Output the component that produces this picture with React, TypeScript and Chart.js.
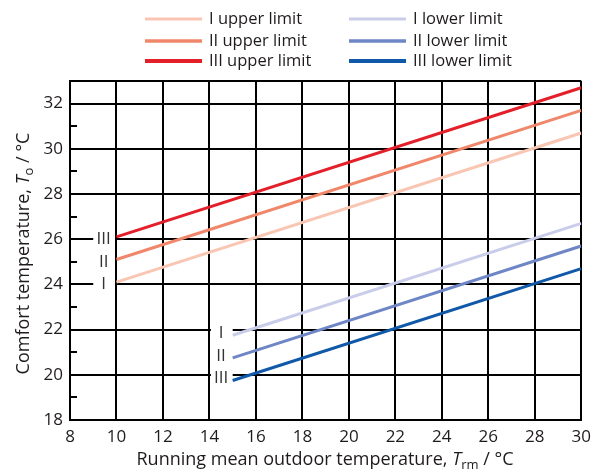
import React, { useEffect, useRef } from "react";
import { Chart, registerables } from "chart.js";

Chart.register(...registerables);

const upperX = [10, 30];
const lowerX = [15, 30];
const upperI = [24.1, 30.7];
const upperII = [25.1, 31.7];
const upperIII = [26.1, 32.7];
const lowerI = [21.75, 26.7];
const lowerII = [20.75, 25.7];
const lowerIII = [19.75, 24.7];

const seriesLabels = ["I upper limit", "II upper limit", "III upper limit", "I lower limit", "II lower limit", "III lower limit"];
const seriesColors = ["#f9c6b3", "#f0876a", "#e3202a", "#c9cdea", "#6f86c6", "#1058a8"];
const classLabels = ["I", "II", "III"];
const upperLabelX = 9.45;
const lowerLabelX = 14.5;

const xTitle = [
  { text: "Running mean outdoor temperature, " },
  { text: "T", italic: true },
  { text: "rm", sub: true },
  { text: " / °C" },
];
const yTitle = [
  { text: "Comfort temperature, " },
  { text: "T", italic: true },
  { text: "o", sub: true },
  { text: " / °C" },
];

const FONT = '"Open Sans", "Noto Sans", sans-serif';
const TEXT = "#1f1b1c";

function partFont(p: any, size: number) {
  const s = p.sub ? Math.round(size * 0.7) : size;
  return `${p.italic ? "italic " : ""}${s}px ${FONT}`;
}

function drawRich(ctx: CanvasRenderingContext2D, parts: any[], cx: number, cy: number, size: number) {
  let total = 0;
  for (const p of parts) {
    ctx.font = partFont(p, size);
    total += ctx.measureText(p.text).width;
  }
  let x = cx - total / 2;
  ctx.textBaseline = "middle";
  ctx.textAlign = "left";
  for (const p of parts) {
    ctx.font = partFont(p, size);
    ctx.fillText(p.text, x, cy + (p.sub ? size * 0.28 : 0));
    x += ctx.measureText(p.text).width;
  }
}

const customPlugin = {
  id: "custom",
  beforeDatasetsDraw(chart: any) {
    const ctx = chart.ctx as CanvasRenderingContext2D;
    const xs = chart.scales.x;
    const ys = chart.scales.y;
    const area = chart.chartArea;
    ctx.save();
    // minor ticks on odd values
    ctx.strokeStyle = "#000";
    ctx.lineWidth = 2;
    for (const t of ys.ticks) {
      if (t.value % 2 === 1 && t.value < ys.max) {
        const py = Math.round(ys.getPixelForValue(t.value));
        ctx.beginPath();
        ctx.moveTo(area.left, py);
        ctx.lineTo(area.left + 7, py);
        ctx.stroke();
      }
    }
    // gaps behind class labels
    ctx.fillStyle = "#fff";
    const ux0 = xs.getPixelForValue(9.0);
    const ux1 = xs.getPixelForValue(upperX[0]) - 1.5;
    ctx.fillRect(ux0, ys.getPixelForValue(26.4), ux1 - ux0, ys.getPixelForValue(23.6) - ys.getPixelForValue(26.4));
    const lx0 = xs.getPixelForValue(14) + 1.5;
    const lx1 = xs.getPixelForValue(lowerX[0]);
    ctx.fillRect(lx0, ys.getPixelForValue(22.3), lx1 - lx0, ys.getPixelForValue(19.4) - ys.getPixelForValue(22.3));
    // class labels
    ctx.fillStyle = "#333";
    ctx.font = `17px ${FONT}`;
    ctx.textAlign = "center";
    ctx.textBaseline = "middle";
    const ups = [upperI, upperII, upperIII];
    const lows = [lowerI, lowerII, lowerIII];
    for (let i = 0; i < 3; i++) {
      ctx.fillText(classLabels[i], xs.getPixelForValue(upperLabelX), ys.getPixelForValue(Math.round(ups[i][0])));
      ctx.fillText(classLabels[i], xs.getPixelForValue(lowerLabelX), ys.getPixelForValue(lows[i][0]) - 2);
    }
    ctx.restore();
  },
  afterDraw(chart: any) {
    const ctx = chart.ctx as CanvasRenderingContext2D;
    const area = chart.chartArea;
    ctx.save();
    ctx.fillStyle = TEXT;
    // axis titles
    drawRich(ctx, xTitle, 325, 460, 18);
    ctx.save();
    ctx.translate(24, (area.top + area.bottom) / 2 + 3);
    ctx.rotate(-Math.PI / 2);
    drawRich(ctx, yTitle, 0, 0, 18);
    ctx.restore();
    // legend
    const colX = [145, 349];
    const rowY = [19, 41, 61];
    const widths = [3, 3.5, 4];
    chart.data.datasets.forEach((ds: any, i: number) => {
      const col = Math.floor(i / 3);
      const row = i % 3;
      const y = rowY[row];
      ctx.strokeStyle = ds.borderColor;
      ctx.lineWidth = widths[row];
      ctx.beginPath();
      ctx.moveTo(colX[col], y);
      ctx.lineTo(colX[col] + 57, y);
      ctx.stroke();
      ctx.fillStyle = TEXT;
      ctx.font = `16.5px ${FONT}`;
      ctx.textAlign = "left";
      ctx.textBaseline = "middle";
      ctx.fillText(ds.label, colX[col] + 64, y);
    });
    ctx.restore();
  },
};

export default function App() {
  const ref = useRef<HTMLCanvasElement>(null);
  useEffect(() => {
    document.body.style.margin = "0";
    const toPts = (xs: number[], ys: number[]) => xs.map((x, i) => ({ x, y: ys[i] }));
    const series = [
      toPts(upperX, upperI),
      toPts(upperX, upperII),
      toPts(upperX, upperIII),
      toPts(lowerX, lowerI),
      toPts(lowerX, lowerII),
      toPts(lowerX, lowerIII),
    ];
    const chart = new Chart(ref.current!, {
      type: "line",
      data: {
        datasets: series.map((d, i) => ({
          label: seriesLabels[i],
          data: d,
          borderColor: seriesColors[i],
          backgroundColor: seriesColors[i],
          borderWidth: 3,
          pointRadius: 0,
          fill: false,
          tension: 0,
        })),
      },
      options: {
        animation: false,
        responsive: false,
        layout: { padding: { top: 81, right: 10, left: 0, bottom: 0 }, autoPadding: false },
        plugins: { legend: { display: false }, tooltip: { enabled: false } },
        scales: {
          x: {
            type: "linear",
            min: 8,
            max: 30,
            afterFit: (s: any) => { s.height = 50; },
            ticks: { stepSize: 2, color: TEXT, font: { family: FONT, size: 17 }, padding: 7, maxRotation: 0 },
            grid: { color: "#000", lineWidth: 2, drawTicks: false },
            border: { color: "#000", width: 2 },
          },
          y: {
            type: "linear",
            min: 18,
            max: 33,
            afterFit: (s: any) => { s.width = 70; },
            ticks: {
              stepSize: 1,
              color: TEXT,
              font: { family: FONT, size: 17 },
              padding: 7,
              autoSkip: false,
              callback: (v: any) => (v % 2 === 0 ? String(v) : ""),
            },
            grid: {
              drawTicks: false,
              lineWidth: 2,
              color: (c: any) => (c.tick && (c.tick.value % 2 === 0 || c.tick.value === 33) ? "#000" : "rgba(0,0,0,0)"),
            },
            border: { color: "#000", width: 2 },
          },
        },
      },
      plugins: [customPlugin],
    });
    return () => chart.destroy();
  }, []);
  return (
    <div style={{ position: "absolute", left: 0, top: 0, width: 598, height: 470 }}>
      <canvas ref={ref} width={598} height={470} style={{ width: 598, height: 470 }} />
    </div>
  );
}
